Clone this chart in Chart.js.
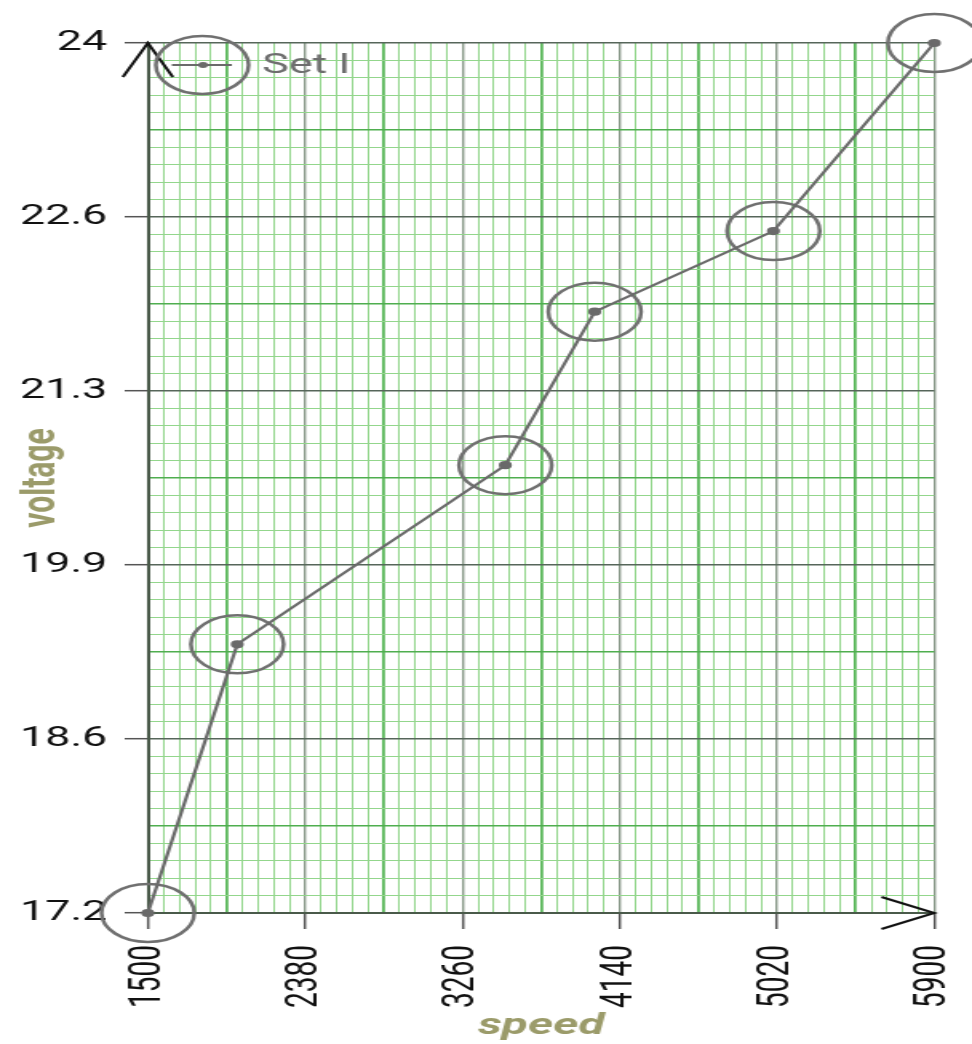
<!DOCTYPE html>
<html>
<head>
<meta charset="utf-8">
<script src="https://cdn.jsdelivr.net/npm/chart.js@4"></script>
<style>
  html, body { margin: 0; padding: 0; background: #fff; }
</style>
</head>
<body>
<!-- 元画像は横方向に引き伸ばされているので、キャンバスも inline style で横に伸ばす -->
<canvas id="chart" width="608" height="1044" style="display:block;width:972px;height:1044px"></canvas>
<script>
// データ
const speed = [1500, 2000, 3500, 4000, 5000, 5900];
const voltage = [17.2, 19.3, 20.7, 21.9, 22.53, 24];
const xTickLabels = ['1500', '2380', '3260', '4140', '5020', '5900'];
const yTickLabels = ['17.2', '18.6', '19.9', '21.3', '22.6', '24'];
const seriesLabel = 'Set I';

const points = speed.map((x, i) => ({ x, y: voltage[i] }));

const MINOR = '#93d68c';
const MID = '#5cb85c';
const LINE_GRAY = '#6a6a6a';
const TITLE_COLOR = '#9b9b6a';

function minorTick(ctx) {
  return ctx.index % 10 !== 0;
}

// 軸端の矢印と、プロット領域内の凡例を描く
const decorPlugin = {
  id: 'decor',
  afterDraw(chart) {
    const { ctx, chartArea } = chart;
    const { left, right, top, bottom } = chartArea;
    ctx.save();
    ctx.strokeStyle = '#111';
    ctx.lineWidth = 2;
    ctx.beginPath();
    ctx.moveTo(left - 15.6, top + 34);
    ctx.lineTo(left, top);
    ctx.lineTo(left + 15.6, top + 34);
    ctx.stroke();
    ctx.beginPath();
    ctx.moveTo(right - 33, bottom - 16);
    ctx.lineTo(right, bottom);
    ctx.lineTo(right - 33, bottom + 16);
    ctx.stroke();

    // legend
    const ly = top + 22;
    ctx.strokeStyle = LINE_GRAY;
    ctx.lineWidth = 2.2;
    ctx.beginPath();
    ctx.moveTo(left + 15, ly);
    ctx.lineTo(left + 52.5, ly);
    ctx.stroke();
    ctx.fillStyle = LINE_GRAY;
    ctx.beginPath();
    ctx.arc(left + 34.5, ly, 3, 0, Math.PI * 2);
    ctx.fill();
    ctx.lineWidth = 2.5;
    ctx.strokeStyle = '#707070';
    ctx.beginPath();
    ctx.arc(left + 34, ly, 29, 0, Math.PI * 2);
    ctx.stroke();
    ctx.fillStyle = '#6e6e6e';
    ctx.font = '28px Roboto';
    ctx.textAlign = 'left';
    ctx.textBaseline = 'middle';
    ctx.fillText(seriesLabel, left + 71.5, ly + 1);
    ctx.restore();
  },
};

new Chart(document.getElementById('chart'), {
  type: 'scatter',
  data: {
    datasets: [
      {
        label: seriesLabel,
        data: points,
        showLine: true,
        borderColor: LINE_GRAY,
        backgroundColor: LINE_GRAY,
        borderWidth: 2.2,
        pointRadius: 3,
        pointHoverRadius: 3,
        clip: false,
      },
      {
        label: 'highlight',
        data: points,
        showLine: false,
        borderColor: '#707070',
        backgroundColor: 'rgba(0,0,0,0)',
        pointBorderWidth: 2.5,
        pointRadius: 29,
        pointHoverRadius: 29,
        clip: false,
      },
    ],
  },
  options: {
    responsive: false,
    animation: false,
    devicePixelRatio: 1,
    layout: {
      autoPadding: false,
      padding: { top: 43, right: 23.6, left: 0, bottom: 0 },
    },
    plugins: {
      legend: { display: false },
      tooltip: { enabled: false },
    },
    scales: {
      x: {
        type: 'linear',
        min: 1500,
        max: 5900,
        afterFit(scale) {
          scale.height = 131;
          scale.paddingLeft = 0;
          scale.paddingRight = 0;
        },
        ticks: {
          stepSize: 88,
          autoSkip: false,
          minRotation: 90,
          maxRotation: 90,
          padding: 16,
          color: '#111',
          font: { family: 'Roboto', size: 28 },
          callback: (value, index) => (index % 10 === 0 ? xTickLabels[index / 10] : ''),
        },
        grid: {
          color: (ctx) => (ctx.index % 10 === 0 ? '#8a9a8a' : ctx.index % 5 === 0 ? MID : MINOR),
          lineWidth: (ctx) => (ctx.index % 10 === 0 ? 1.4 : ctx.index % 5 === 0 ? 1.8 : 1),
          tickLength: 16,
          tickColor: (ctx) => (minorTick(ctx) ? 'rgba(0,0,0,0)' : '#555'),
          tickWidth: 1.5,
        },
        border: { color: '#4a5a4a', width: 2 },
        title: {
          display: true,
          text: 'speed',
          color: TITLE_COLOR,
          font: { family: 'Roboto', size: 30, weight: 'bold', style: 'italic' },
          padding: { top: 0, bottom: 0 },
        },
      },
      y: {
        type: 'linear',
        min: 17.2,
        max: 24,
        afterFit(scale) {
          scale.width = 92.5;
        },
        ticks: {
          stepSize: 0.136,
          autoSkip: false,
          padding: 11,
          color: '#111',
          font: { family: 'Roboto', size: 28 },
          callback: (value, index) => (index % 10 === 0 ? yTickLabels[index / 10] : ''),
        },
        grid: {
          color: (ctx) => (ctx.index % 10 === 0 ? '#56665a' : ctx.index % 5 === 0 ? '#4fae4f' : MINOR),
          lineWidth: (ctx) => (ctx.index % 10 === 0 ? 1.4 : ctx.index % 5 === 0 ? 1.4 : 1),
          tickLength: 14.5,
          tickColor: (ctx) => (minorTick(ctx) ? 'rgba(0,0,0,0)' : '#555'),
          tickWidth: 1.5,
        },
        border: { color: '#4a5a4a', width: 2 },
        title: {
          display: true,
          text: 'voltage',
          color: TITLE_COLOR,
          font: { family: 'Roboto', size: 30, weight: 'bold' },
          padding: { top: 8, bottom: 0 },
        },
      },
    },
  },
  plugins: [decorPlugin],
});
</script>
</body>
</html>
